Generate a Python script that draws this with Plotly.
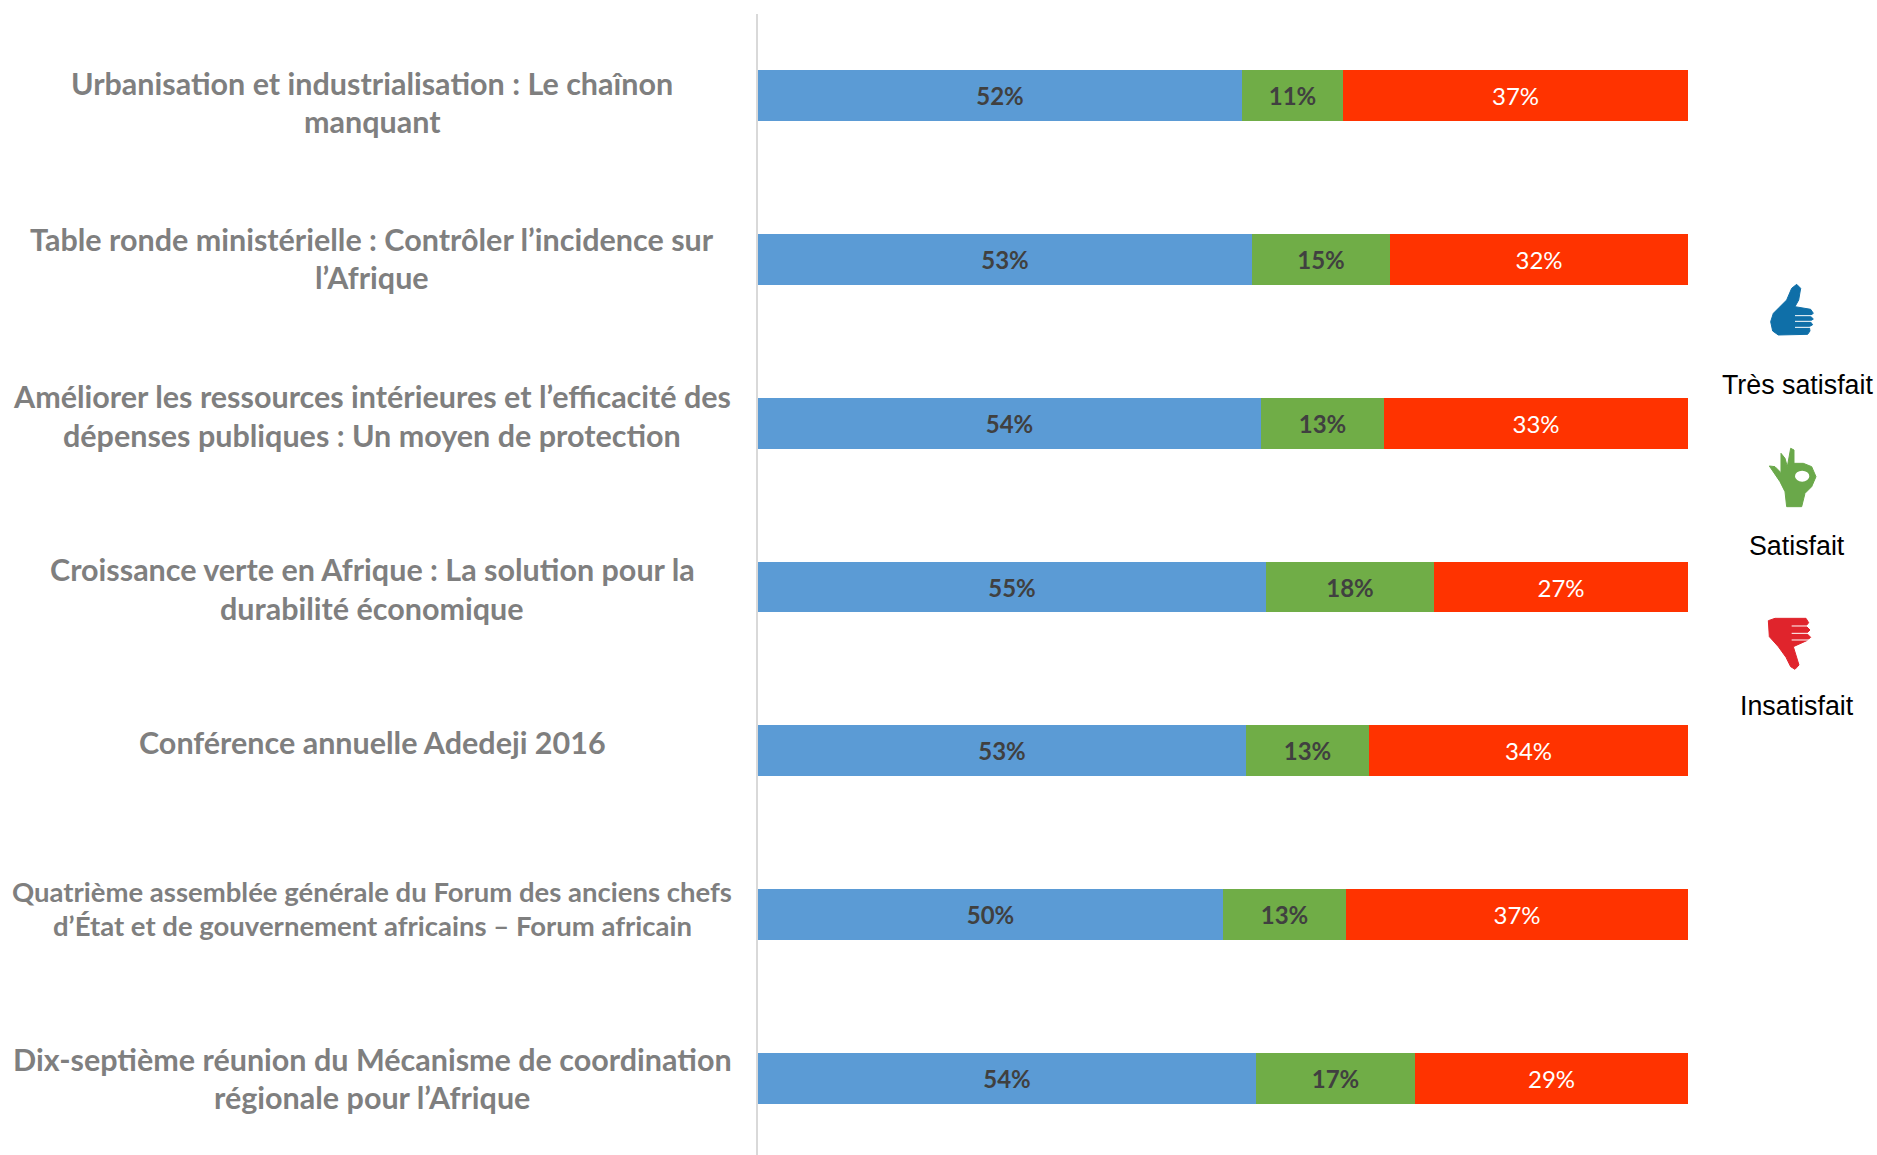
import plotly.graph_objects as go

W, H = 1877, 1155
categories = ["Urbanisation", "Table ronde", "Ressources", "Croissance verte", "Adedeji", "Forum africain", "Mécanisme"]
tres_satisfait = [52.04, 53.12, 54.1, 54.6, 52.5, 50.0, 53.55]
satisfait = [10.86, 14.84, 13.2, 18.1, 13.2, 13.2, 17.1]
insatisfait = [37.1, 32.04, 32.7, 27.3, 34.3, 36.8, 29.35]
labels_tres = ["52%", "53%", "54%", "55%", "53%", "50%", "54%"]
labels_sat = ["11%", "15%", "13%", "18%", "13%", "13%", "17%"]
labels_ins = ["37%", "32%", "33%", "27%", "34%", "37%", "29%"]

# category text: (line text, y pixel, font size)
cat_lines = [
    ("Urbanisation et industrialisation : Le chaînon", 83, 30.5), ("manquant", 121, 30.5),
    ("Table ronde ministérielle : Contrôler l’incidence sur", 239, 30.5), ("l’Afrique", 277, 30.5),
    ("Améliorer les ressources intérieures et l’efficacité des", 396, 30.5), ("dépenses publiques : Un moyen de protection", 435, 30.5),
    ("Croissance verte en Afrique : La solution pour la", 569, 30.5), ("durabilité économique", 608, 30.5),
    ("Conférence annuelle Adedeji 2016", 742, 30.5),
    ("Quatrième assemblée générale du Forum des anciens chefs", 891, 27.5), ("d’État et de gouvernement africains – Forum africain", 926, 27.5),
    ("Dix-septième réunion du Mécanisme de coordination", 1059, 30.5), ("régionale pour l’Afrique", 1097, 30.5),
]
legend_items = [("Très satisfait", 385), ("Satisfait", 546), ("Insatisfait", 706)]

fig = go.Figure()
for vals, labs, col, tcol, name, bold in [
    (tres_satisfait, labels_tres, "#5b9bd5", "#404040", "Très satisfait", True),
    (satisfait, labels_sat, "#70ad47", "#404040", "Satisfait", True),
    (insatisfait, labels_ins, "#ff3300", "#ffffff", "Insatisfait", False),
]:
    fig.add_trace(go.Bar(
        y=categories, x=vals, name=name, orientation="h", width=0.311,
        marker=dict(color=col, line=dict(width=0)),
        text=[f"<b>{t}</b>" if bold else t for t in labs], textposition="inside", insidetextanchor="middle", textangle=0,
        constraintext="none",
        textfont=dict(family="Lato", size=24, color=tcol),
        hoverinfo="x+y+name",
    ))

def px(x, y):
    return f"{x / W:.5f}", f"{1 - y / H:.5f}"

def zoom_path(points):
    out = []
    for i, (x, y) in enumerate(points):
        a, b = px(x, y)
        out.append(("M" if i == 0 else "L") + f"{a},{b}")
    return " ".join(out) + " Z"

def z(points):
    return [(1680 + p[0] / 3, 250 + p[1] / 3) for p in points]

shapes = []
def icon(points, color):
    shapes.append(dict(type="path", xref="paper", yref="paper", path=zoom_path(z(points)),
                       fillcolor=color, line=dict(color=color, width=1)))
def stroke(p, q, color="#ffffff", width=1):
    shapes.append(dict(type="path", xref="paper", yref="paper", path=zoom_path(z([p, q])).replace(" Z", ""),
                       line=dict(color=color, width=width)))

blue, green, red = "#0f6fa8", "#6aa84a", "#e0242c"
icon([(272,215),(280,190),(298,172),(320,150),(335,115),(350,103),(362,115),(356,150),(345,170),(392,178),(400,190),(390,197),(400,207),(390,214),(398,224),(388,230),(390,243),(383,253),(295,255),(278,243)], blue)
for yy in (197, 214, 232):
    stroke((345, yy), (400, yy))

icon([(268,648),(285,650),(303,668),(303,610),(315,625),(322,650),(332,595),(342,600),(342,640),(370,640),(395,650),(408,680),(395,710),(375,730),(365,770),(320,770),(315,725),(300,695)], green)
x0, y0 = px(1680 + 345 / 3, 250 + 695 / 3)
x1, y1 = px(1680 + 388 / 3, 250 + 662 / 3)
shapes.append(dict(type="circle", xref="paper", yref="paper", x0=x0, y0=y0, x1=x1, y1=y1,
                   fillcolor="#ffffff", line=dict(width=0)))

icon([(265,1112),(285,1105),(378,1105),(386,1118),(378,1128),(390,1140),(380,1150),(392,1162),(380,1172),(340,1190),(357,1245),(345,1258),(332,1250),(318,1222),(295,1190),(268,1160)], red)
for yy in (1128, 1150, 1170):
    stroke((335, yy), (392, yy))

annotations = []
for txt, y, size in cat_lines:
    a, b = px(372, y)
    annotations.append(dict(xref="paper", yref="paper", x=float(a), y=float(b), text=f"<b>{txt}</b>",
                            showarrow=False, xanchor="center", yanchor="middle",
                            font=dict(family="Lato", size=size, color="#7f7f7f")))
for txt, y in legend_items:
    a, b = px(1797, y)
    annotations.append(dict(xref="paper", yref="paper", x=float(a), y=float(b), text=txt,
                            showarrow=False, xanchor="center", yanchor="middle",
                            font=dict(family="Liberation Sans", size=26.8, color="#000000")))

fig.update_layout(
    width=W, height=H, barmode="stack", showlegend=False,
    margin=dict(l=0, r=0, t=0, b=0), paper_bgcolor="#ffffff", plot_bgcolor="#ffffff",
    xaxis=dict(domain=[758 / W, 1688 / W], range=[0, 100], visible=False, fixedrange=True),
    yaxis=dict(domain=[0, 1 - 14 / H], range=[6.467, -0.4975], showticklabels=False, ticks="",
               showgrid=False, zeroline=False, showline=True, linecolor="#d9d9d9", linewidth=2, fixedrange=True),
    shapes=shapes, annotations=annotations,
    bargap=0,
)
fig.write_html("out.html", config={"displayModeBar": False},
               post_script="document.body.style.margin='0';document.documentElement.style.overflow='hidden';")
